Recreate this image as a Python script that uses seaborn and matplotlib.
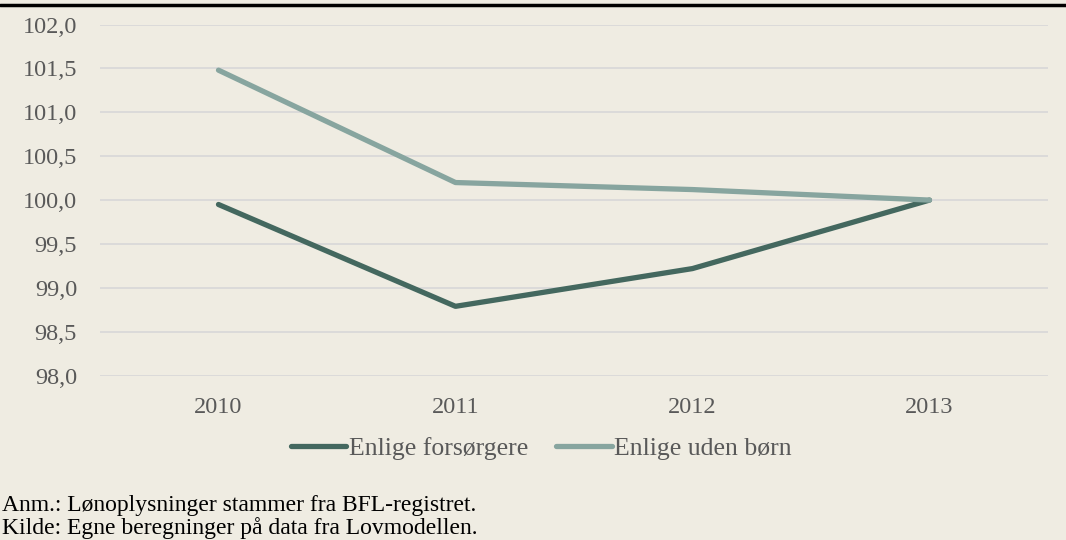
import pandas as pd
import matplotlib.pyplot as plt
import matplotlib.ticker as mticker
from matplotlib.lines import Line2D
import seaborn as sns

# data (index, 2013 = 100)
years = [2010, 2011, 2012, 2013]
forsorgere = [99.95, 98.79, 99.22, 100.0]
uden_born = [101.48, 100.20, 100.12, 100.0]
series_names = ["Enlige forsørgere", "Enlige uden børn"]
y_ticks = [98.0, 98.5, 99.0, 99.5, 100.0, 100.5, 101.0, 101.5, 102.0]
notes = ["Anm.: Lønoplysninger stammer fra BFL-registret.",
         "Kilde: Egne beregninger på data fra Lovmodellen."]

df = pd.DataFrame({
    "year": years * 2,
    "value": forsorgere + uden_born,
    "serie": [series_names[0]] * len(years) + [series_names[1]] * len(years),
})

bg = "#efece2"
sns.set_style("white", {"axes.facecolor": bg, "figure.facecolor": bg})
plt.rcParams["font.family"] = ["Liberation Serif", "DejaVu Serif"]

fig = plt.figure(figsize=(10.66, 5.4), dpi=100)
ax = fig.add_axes([0.0938, 0.3043, 0.8893, 0.6503])

sns.lineplot(data=df, x="year", y="value", hue="serie", hue_order=series_names,
             palette=["#44685f", "#87a59f"], linewidth=3.8, ax=ax,
             solid_capstyle="round", legend=False)

ax.set_xlim(2009.5, 2013.5)
ax.set_ylim(98, 102)
ax.set_xticks(years)
ax.set_yticks(y_ticks)
ax.yaxis.set_major_formatter(mticker.FuncFormatter(lambda v, p: f"{v:.1f}".replace(".", ",")))
ax.grid(axis="y", color="#d9d9d9", linewidth=1.3)
ax.set_axisbelow(True)
for s in ax.spines.values():
    s.set_visible(False)
ax.tick_params(length=0, labelsize=17.5, labelcolor="#595959")
ax.tick_params(axis="y", pad=16.5)
ax.tick_params(axis="x", pad=15)
ax.set_xlabel("")
ax.set_ylabel("")

handles = [Line2D([0], [0], color=c, lw=3.8, solid_capstyle="round")
           for c in ["#44685f", "#87a59f"]]
fig.legend(handles, series_names, loc="center", bbox_to_anchor=(0.508, 0.17),
           ncol=2, frameon=False, fontsize=18.5, labelcolor="#595959",
           handlelength=2.15, handletextpad=0.1, columnspacing=1.1)

# thick rule under the (cut off) title
fig.add_artist(Line2D([0, 1], [0.991, 0.991], color="black", lw=2.5))

fig.text(0.002, 1 - 506 / 540, notes[0], fontsize=17, va="center", color="black")
fig.text(0.002, 1 - 528 / 540, notes[1], fontsize=17, va="center", color="black")

fig.savefig("out.png", dpi=100, facecolor=bg)
